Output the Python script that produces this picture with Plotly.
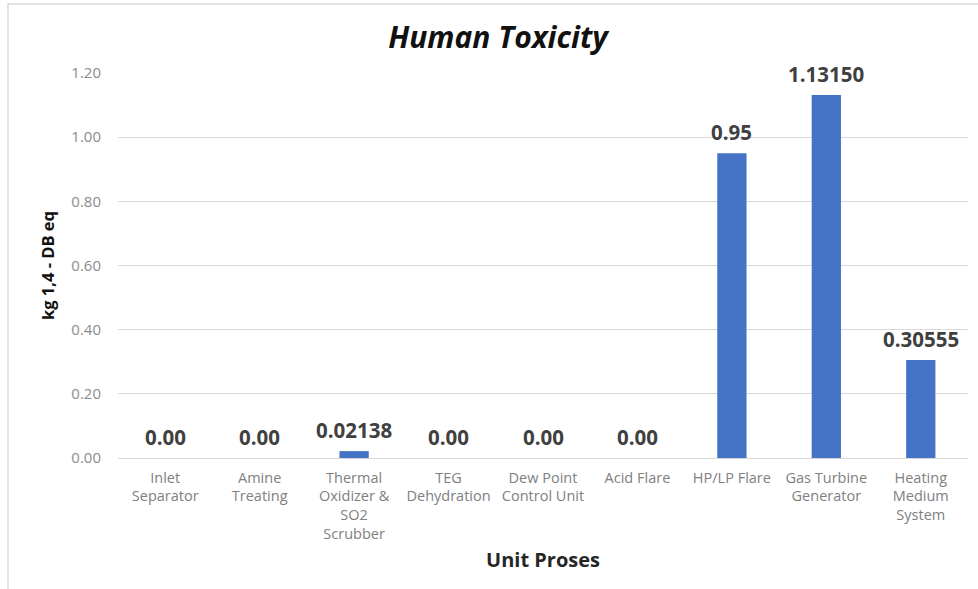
import plotly.graph_objects as go

# Process units and their human toxicity impact (kg 1,4-DB eq)
units = [
    "Inlet<br>Separator",
    "Amine<br>Treating",
    "Thermal<br>Oxidizer &<br>SO2<br>Scrubber",
    "TEG<br>Dehydration",
    "Dew Point<br>Control Unit",
    "Acid Flare",
    "HP/LP Flare",
    "Gas Turbine<br>Generator",
    "Heating<br>Medium<br>System",
]
impact = [0.0, 0.0, 0.02138, 0.0, 0.0, 0.0, 0.95, 1.13150, 0.30555]
value_labels = ["0.00", "0.00", "0.02138", "0.00", "0.00", "0.00", "0.95", "1.13150", "0.30555"]
y_ticks = [0.0, 0.2, 0.4, 0.6, 0.8, 1.0, 1.2]

W, H = 978, 589
ML, MR, MT, MB = 118, 10, 73, 131

positions = list(range(len(units)))

fig = go.Figure(
    go.Bar(
        x=positions,
        y=impact,
        marker=dict(color="#4472C4", line=dict(width=0)),
        width=0.31,
        hoverinfo="y",
    )
)

# Value labels sitting just above each bar
for xi, yi, lab in zip(positions, impact, value_labels):
    fig.add_annotation(
        x=xi,
        y=yi,
        text=f"<b>{lab}</b>",
        showarrow=False,
        xanchor="center",
        yanchor="bottom",
        yshift=5,
        font=dict(family="Open Sans", size=20.5, color="#404040"),
    )

fig.update_layout(
    width=W,
    height=H,
    margin=dict(l=ML, r=MR, t=MT, b=MB),
    paper_bgcolor="white",
    plot_bgcolor="white",
    showlegend=False,
    title=dict(
        text="<b><i>Human Toxicity</i></b>",
        x=498 / W,
        xanchor="center",
        y=1 - 37 / H,
        yanchor="middle",
        font=dict(family="Open Sans", size=30, color="#111111"),
    ),
    xaxis=dict(
        tickmode="array",
        tickvals=positions,
        ticktext=units,
        range=[-0.5, len(units) - 0.5],
        showgrid=False,
        showline=False,
        zeroline=False,
        ticks="",
        tickangle=0,
        ticklabelstandoff=9,
        tickfont=dict(family="Open Sans", size=14.5, color="#808080"),
        title=dict(
            text="<b>Unit Proses</b>",
            font=dict(family="Open Sans", size=20, color="#262626"),
            standoff=10,
        ),
    ),
    yaxis=dict(
        range=[0, 1.2],
        tickvals=y_ticks,
        tickformat=".2f",
        showgrid=True,
        gridcolor="#d9d9d9",
        gridwidth=1,
        zeroline=True,
        zerolinecolor="#d9d9d9",
        zerolinewidth=1,
        showline=False,
        ticks="",
        ticklabelstandoff=16,
        tickfont=dict(family="Open Sans", size=15, color="#8c8c8c"),
        title=dict(
            text="<b>kg 1,4 - DB eq</b>",
            font=dict(family="Open Sans", size=16.5, color="#111111"),
            standoff=12,
        ),
    ),
    shapes=[
        dict(
            type="rect",
            xref="paper",
            yref="paper",
            x0=(8 - ML) / (W - ML - MR),
            x1=(990 - ML) / (W - ML - MR),
            y0=(H - MB - 600) / (H - MT - MB),
            y1=(H - MB - 4) / (H - MT - MB),
            line=dict(color="#d9d9d9", width=1.5),
            layer="below",
        )
    ],
)

fig.write_html("out.html")
